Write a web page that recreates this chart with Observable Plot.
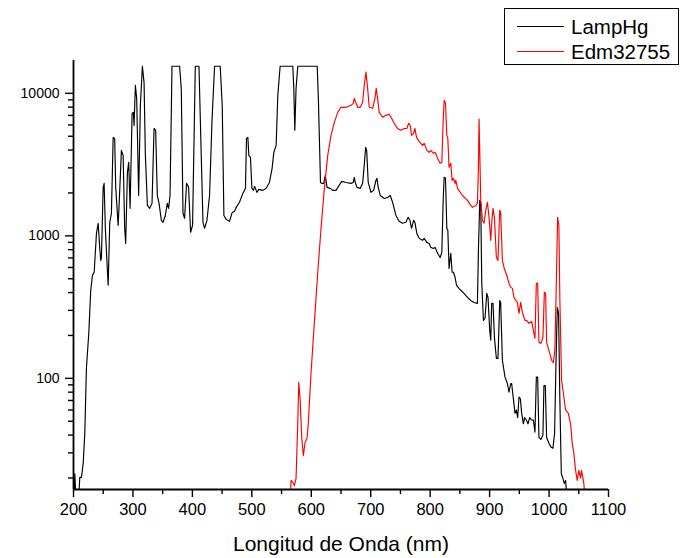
<!DOCTYPE html>
<html>
<head>
<meta charset="utf-8">
<script src="https://cdn.jsdelivr.net/npm/d3@7"></script>
<script src="https://cdn.jsdelivr.net/npm/@observablehq/plot@0.6"></script>
<style>
  body { margin: 0; background: #fff; }
  #wrap { position: relative; width: 683px; height: 558px; font-family: 'Liberation Sans', Arial, sans-serif; }
  #legend { position: absolute; left: 504px; top: 8px; width: 175px; height: 57px; border: 1px solid #000; background: #fff; box-sizing: border-box; }
  .row { position: absolute; left: 0; height: 25px; display: flex; align-items: center; }
  .sw { width: 47px; height: 0; margin-left: 12px; margin-right: 7px; }
  .lab { font-size: 20.5px; color: #000; }
  [aria-label="x-axis label"] text { font-size: 21px; }
</style>
</head>
<body>
<div id="wrap"></div>
<script>
// Series names
const seriesNames = ["LampHg", "Edm32755"];
const seriesColors = ["#000000", "#ff0000"];

// Axis ticks
const xDomain = [200, 1100];
const yDomain = [16.6, 17000];
const xTicks = [200, 300, 400, 500, 600, 700, 800, 900, 1000, 1100];
const xMinor = [250, 350, 450, 550, 650, 750, 850, 950, 1050];
const yTicks = [100, 1000, 10000];
const yMinor = [20, 30, 40, 50, 60, 70, 80, 90, 200, 300, 400, 500, 600, 700, 800, 900, 2000, 3000, 4000, 5000, 6000, 7000, 8000, 9000];

// LampHg: [wavelength nm, counts]
const lampHg = [
[201,15],[202.2,21.5],[203.9,15],[208.9,15],[210.6,20.2],[213.4,20.2],[216.3,25.3],[219,41],[221.8,119],[224.7,180],[225.7,207],[229,415],[231.9,528],[234.8,555],[238.6,1040],[241.5,1225],[244.2,815],[245.8,673],[247,700],[249.9,2190],[251.5,2335],[253.7,1100],[257.1,560],[258.3,450],[261,1245],[263.8,1440],[266.7,4900],[269.3,4830],[271,2190],[275.1,1185],[276.7,1635],[280.6,3980],[283.5,3670],[286.1,1130],[287.8,885],[290.7,2790],[292.9,3280],[295.2,1560],[298.6,7240],[300.7,7360],[301.9,5960],[304.1,11380],[306.3,9225],[309.6,1920],[312.5,8240],[315.9,15500],[318.7,11900],[320.9,3670],[324.3,1635],[328.1,1560],[332.1,1690],[335.5,5670],[338.2,5500],[341,1920],[343.9,1690],[347.8,1285],[350.6,1245],[354.5,1390],[357.8,1690],[360,1560],[362.4,1920],[365.7,15500],[378.5,15500],[381.3,10840],[384.2,1440],[386.9,1330],[390.2,2335],[393.6,2190],[397,1060],[400.3,1185],[404.9,15500],[411.1,15500],[412,10840],[414.9,3670],[417.8,1245],[420.5,1130],[424.5,1285],[428.9,1920],[432.9,6260],[437.3,15500],[446.8,15500],[450.2,8240],[453,1390],[456.9,1305],[462.4,1265],[467,1460],[470.8,1485],[473.7,1585],[479.2,1720],[484.9,1985],[489.3,2155],[491,4830],[493.3,4910],[495,3670],[497.7,3555],[500.1,2155],[502.8,2085],[504.4,2225],[506.1,2155],[508.5,2020],[511.8,2120],[518.5,2085],[524.1,2155],[529.6,2370],[534.1,2975],[537,3855],[539.2,4110],[540.9,4310],[543.7,9680],[547.6,15500],[568.9,15500],[570.6,10840],[572.3,5500],[574.4,10840],[577.3,15500],[610,15500],[612,9000],[615.5,2370],[617.6,2335],[620.9,2335],[623.6,2660],[626.5,2190],[632,2155],[636.1,2085],[641.6,2085],[651.2,2410],[658.4,2370],[666.8,2335],[670.7,2370],[672.3,2575],[674,2370],[676.9,2190],[682.4,2155],[686.4,2335],[689.1,3125],[691.5,4180],[693.2,3980],[695.8,2370],[700.4,2020],[704.9,2085],[708.8,2450],[710.5,2535],[712.6,2190],[716,1920],[722.7,1830],[728.4,1860],[732.8,1920],[736.8,1720],[742.4,1390],[747.9,1265],[753.6,1225],[759.1,1245],[763,1350],[765.9,1285],[768.7,1130],[772.1,1285],[774.3,1245],[777.6,1040],[781.5,960],[787.2,930],[789.9,960],[794.4,900],[798.3,885],[801.1,830],[805.7,815],[808.4,830],[812.4,755],[816.8,705],[819.6,765],[821.8,1720],[823.5,2575],[825.8,2535],[828,1130],[829.7,1095],[831.8,590],[834.7,755],[836.9,555],[839.2,555],[841.9,512],[844.3,450],[848.6,428],[851.5,415],[857,395],[862.7,370],[868.3,352],[873.8,341],[879.5,336],[881.2,790],[883.4,1775],[885.1,1690],[886.8,465],[889.6,255],[892.3,264],[895.2,395],[897.3,370],[900.2,217],[901.9,185],[903.5,336],[905.7,336],[908.1,194],[911.4,138],[914.1,138],[917,352],[918.6,341],[921.5,134],[925.9,102],[929.9,92],[932.6,80],[935.5,92],[937.1,92],[939.3,76],[942.7,57],[945,60],[947.2,53],[949.4,74],[951.7,72],[953.9,57],[956.8,48],[958.9,53],[961.8,51],[964.5,48],[967.4,53],[970.7,51],[973.6,51],[976.3,42],[978.6,102],[980.8,102],[983,38.5],[986.3,37.3],[989.7,40],[991.4,89],[993.7,89],[995.9,38.5],[999.8,35],[1003.8,32.8],[1006.5,32.3],[1009.3,41],[1011.5,119],[1013.9,315],[1016,286],[1018.2,70],[1020.6,21.5],[1023.3,19.9],[1025.6,18.3],[1027.8,19.2],[1029,16.9],[1030.5,15]
];

// Edm32755: [wavelength nm, counts]
const edm32755 = [
[564.9,15],[566,19.2],[568.9,18.6],[571.6,17.7],[574.4,19.9],[577.3,49],[578.9,94],[581.2,72],[584,38],[586.7,28.8],[589.6,35.6],[592.9,38],[595.1,49],[599.6,110],[605.2,247],[610.9,555],[616.4,1130],[622,2155],[627.7,3670],[633.2,5070],[638.8,6260],[644.5,7360],[650,7980],[658.4,7980],[666.8,8240],[670.7,8510],[672.3,9225],[674.7,8650],[678.1,7980],[682.4,7980],[686.4,8650],[689.1,11380],[692,14100],[694.8,10840],[697.5,7980],[703.2,7850],[707.1,9225],[709.3,10840],[711.6,9225],[714.3,7360],[720,6790],[725.6,7010],[731.1,7130],[735.1,6680],[739.5,6160],[745.2,5670],[750.7,5500],[756.3,5670],[760.8,5670],[763.7,6160],[766.4,5960],[768.7,5070],[772.1,5240],[774.3,5670],[777.1,4910],[781.5,4600],[787.2,4310],[789.9,4460],[794.4,3980],[798.3,3855],[801.1,3980],[805.7,3790],[808.4,3855],[812.4,3500],[816.8,3230],[819.6,3280],[821.8,6260],[823.5,8930],[825.8,8510],[828,5070],[829.7,4830],[831.8,3025],[834.7,3230],[836.9,2450],[839.2,2535],[841.9,2335],[843.1,2450],[846,2155],[854.3,1920],[862.7,1775],[868.3,1635],[871.1,1585],[876.7,1635],[879.5,1690],[881.2,3025],[882.2,6600],[883.4,3980],[885.1,1775],[887.9,1285],[890.6,1225],[893.5,1510],[896.3,1720],[899,1350],[901.9,930],[903.5,1225],[905.7,1560],[908.1,1350],[911.4,705],[914.1,673],[917,1510],[918.6,1460],[921.5,673],[924.2,600],[929.9,512],[932.6,465],[935.5,435],[938.3,428],[941,370],[943.8,352],[946.7,341],[949.4,286],[952.2,341],[955.1,290],[959.5,255],[962.3,255],[966.2,243],[970.7,251],[973.6,217],[976.3,191],[978.6,465],[980.8,465],[983,179],[986.3,176],[989.7,194],[992.1,402],[994.2,395],[995.9,179],[999.8,157],[1004.3,134],[1007.2,129],[1009.8,157],[1012.2,465],[1014.4,1350],[1016.5,1185],[1018.2,352],[1021.1,97],[1024.9,74],[1027.8,60],[1032.3,57],[1036.2,48],[1039,35],[1041.7,29.8],[1044.6,22.6],[1047.4,19.2],[1050.1,22.6],[1053,19.9],[1054.6,22.6],[1056.8,20.2],[1058.5,18.3],[1060.2,15]
];

const fmt = d3.format("d");

const chart = Plot.plot({
  width: 683,
  height: 558,
  marginLeft: 73,
  marginRight: 75,
  marginTop: 60,
  marginBottom: 69,
  style: { fontFamily: "'Liberation Sans', Arial, sans-serif", fontSize: "16.5px", color: "#000", background: "#fff", overflow: "visible" },
  x: { domain: xDomain, axis: null },
  y: { type: "log", domain: yDomain, axis: null },
  marks: [
    Plot.line(lampHg, { x: d => d[0], y: d => d[1], stroke: seriesColors[0], strokeWidth: 1.15, clip: true }),
    Plot.line(edm32755, { x: d => d[0], y: d => d[1], stroke: seriesColors[1], strokeWidth: 1.15, clip: true }),
    Plot.axisX({ ticks: xMinor, tickSize: 5, text: null, label: null, strokeWidth: 1.4 }),
    Plot.axisX({ ticks: xTicks, tickSize: 8, tickPadding: 6, tickFormat: fmt, strokeWidth: 1.4,
      label: "Longitud de Onda (nm)", labelAnchor: "center", labelOffset: 61, labelArrow: "none" }),
    Plot.axisY({ ticks: yMinor, tickSize: 5, text: null, label: null, strokeWidth: 1.4 }),
    Plot.axisY({ ticks: yTicks, tickSize: 8, tickPadding: 6, tickFormat: fmt, label: null, strokeWidth: 1.4, fontSize: 14 }),
    Plot.ruleX([xDomain[0]], { strokeWidth: 1.8 }),
    Plot.ruleY([yDomain[0]], { strokeWidth: 1.8 })
  ]
});

const wrap = document.getElementById("wrap");
wrap.appendChild(chart);

// Legend (drawn inside the chart box, as in the reference)
const legend = document.createElement("div");
legend.id = "legend";
seriesNames.forEach((name, i) => {
  const row = document.createElement("div");
  row.className = "row";
  row.style.top = (5 + i * 25) + "px";
  const sw = document.createElement("div");
  sw.className = "sw";
  sw.style.borderTop = "1.2px solid " + seriesColors[i];
  const lab = document.createElement("span");
  lab.className = "lab";
  lab.textContent = name;
  row.appendChild(sw);
  row.appendChild(lab);
  legend.appendChild(row);
});
wrap.appendChild(legend);
</script>
</body>
</html>
